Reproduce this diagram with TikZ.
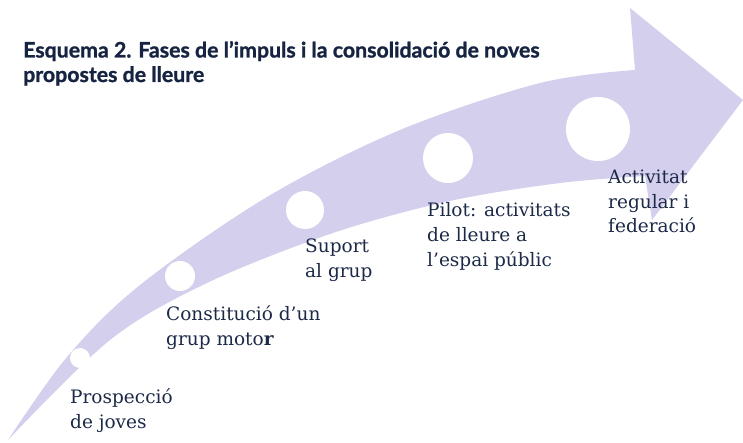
\documentclass[tikz,border=0pt]{standalone}
\usepackage{fontspec}
\setmainfont{DejaVu Serif}
\setsansfont{Lato}[BoldFeatures={FakeBold=1.2}]
\usetikzlibrary{positioning}
\definecolor{cArrow}{RGB}{211,207,237}
\definecolor{cInk}{RGB}{28,42,72}
\definecolor{cTitle}{RGB}{22,36,66}
\tikzset{
    stage/.style={
        circle, fill=white, inner sep=0pt,
    },
    phase/.style={
        anchor=base west, inner sep=0pt, align=left, text=cInk,
        font=\fontsize{18.5}{24.5}\selectfont,
    },
    heading/.style={
        anchor=base west, inner sep=0pt, align=left, text=cTitle,
        font=\sffamily\bfseries\fontsize{21.3}{24.5}\selectfont,
    },
}

\begin{document}
\begin{tikzpicture}[x=1pt, y=-1pt]
\useasboundingbox (0,0) rectangle (743,443);

% ============================================================
%  Curved arrow (shaft from bottom left, head at top right)
% ============================================================
\fill[cArrow]
    plot[smooth, tension=0.55] coordinates
        {(8,440) (67,357) (140,285) (267,197) (400,130) (540,83) (635,70)}
    -- (630,8) -- (743,100) -- (652,220) -- (645,176)
    -- plot[smooth, tension=0.55] coordinates
        {(645,176) (560,183) (450,201) (333,233) (207,283) (110,340) (8,440)}
    -- cycle;

% ============================================================
%  Stage markers, growing along the arrow
% ============================================================
\node[stage, minimum size=20pt] (s1) at (80,358) {};
\node[stage, minimum size=30pt] (s2) at (180,276) {};
\node[stage, minimum size=38pt] (s3) at (305,210) {};
\node[stage, minimum size=50pt] (s4) at (448,158) {};
\node[stage, minimum size=64pt] (s5) at (598,129) {};

% Stage labels (anchored on the baseline of their last line)
\node[phase] (l1) at (70,428)  {Prospecció\\de joves};
\node[phase] (l2) at (166,345) {Constitució d’un\\grup moto\textbf{r}};
\node[phase] (l3) at (305,277) {Suport\\al grup};
\node[phase] (l4) at (427,266) {Pilot: activitats\\de lleure a\\l’espai públic};
\node[phase] (l5) at (608,233) {Activitat\\regular i\\federació};

% Title
\node[heading] (title) at (23,82)
    {Esquema 2. Fases de l’impuls i la consolidació de noves\\propostes de lleure};

\end{tikzpicture}
\end{document}
